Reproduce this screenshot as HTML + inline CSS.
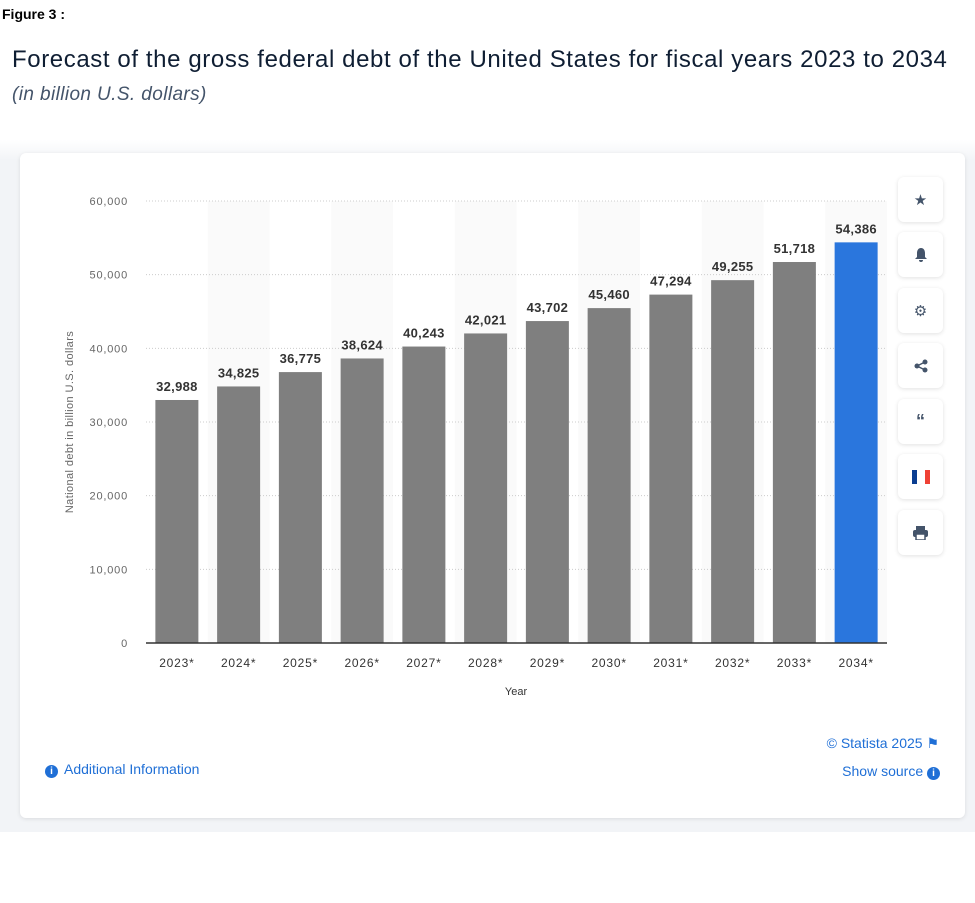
<!DOCTYPE html>
<html><head><meta charset="utf-8"><style>
body{margin:0;width:975px;height:903px;background:#fff;font-family:"Liberation Sans",sans-serif;position:relative;overflow:hidden}
.abs{position:absolute}
.icon{position:absolute;left:898px;width:45px;height:45px;background:#fff;border-radius:6px;box-shadow:0 1px 4px rgba(0,0,0,0.12);display:flex;align-items:center;justify-content:center;color:#44546a;font-size:15px}
</style></head><body>
<div class="abs" style="left:2px;top:6px;font-weight:bold;font-size:14px;color:#000">Figure 3 :</div>
<div class="abs" style="left:12px;top:46px;font-size:24px;color:#0f1e33;letter-spacing:0.6px;white-space:nowrap">Forecast of the gross federal debt of the United States for fiscal years 2023 to 2034</div>
<div class="abs" style="left:12px;top:84px;font-size:19px;font-style:italic;color:#44546a;letter-spacing:0.4px">(in billion U.S. dollars)</div>
<div class="abs" style="left:0;top:140px;width:975px;height:692px;background:linear-gradient(#fff,#f2f4f7 20px)"></div>
<div class="abs" style="left:20px;top:153px;width:945px;height:665px;background:#fff;border-radius:6px;box-shadow:0 1px 4px rgba(0,0,0,0.1)"></div>
<svg class="abs" style="left:0;top:0" width="975" height="903" id="chart"></svg>
<div class="icon" style="top:177px">★</div>
<div class="icon" style="top:232px"><svg width="14" height="15"><path d="M7 1C4 1 3 4 3 6v4l-2 2h12l-2-2V6c0-2-1-5-4-5zM5 13h4a2 2 0 0 1-4 0z" fill="#44546a"/></svg></div>
<div class="icon" style="top:288px">⚙</div>
<div class="icon" style="top:343px"><svg width="14" height="14"><circle cx="11" cy="3" r="2.5" fill="#44546a"/><circle cx="3" cy="7" r="2.5" fill="#44546a"/><circle cx="11" cy="11" r="2.5" fill="#44546a"/><path d="M3 7L11 3M3 7l8 4" stroke="#44546a" stroke-width="1.5"/></svg></div>
<div class="icon" style="top:399px;font-weight:bold;font-size:18px">“</div>
<div class="icon" style="top:454px"><svg width="20" height="14"><rect x="1" width="5" height="14" fill="#0a3d91"/><rect x="14" width="5" height="14" fill="#ef4135"/></svg></div>
<div class="icon" style="top:510px"><svg width="15" height="14"><rect x="3" y="0" width="9" height="4" fill="#44546a"/><rect x="0" y="4" width="15" height="7" rx="2" fill="#44546a"/><rect x="3" y="8" width="9" height="6" fill="#fff" stroke="#44546a" stroke-width="1.5"/></svg></div>
<div class="abs" style="left:45px;top:761px;font-size:14px;color:#1f6fd6"><span style="display:inline-block;width:13px;height:13px;border-radius:50%;background:#1f6fd6;color:#fff;font-size:10px;text-align:center;line-height:13px;font-weight:bold;margin-right:6px">i</span>Additional Information</div>
<div class="abs" style="right:36px;top:735px;font-size:14px;color:#1f6fd6">© Statista 2025 ⚑</div>
<div class="abs" style="right:35px;top:763px;font-size:14px;color:#1f6fd6">Show source <span style="display:inline-block;width:13px;height:13px;border-radius:50%;background:#1f6fd6;color:#fff;font-size:10px;text-align:center;line-height:13px;font-weight:bold">i</span></div>
<script>
const categories=["2023*","2024*","2025*","2026*","2027*","2028*","2029*","2030*","2031*","2032*","2033*","2034*"];
const values=[32988,34825,36775,38624,40243,42021,43702,45460,47294,49255,51718,54386];
const yTicks=[0,10000,20000,30000,40000,50000,60000];
const NS="http://www.w3.org/2000/svg";
const svg=document.getElementById('chart');
const x0=146,x1=887,y0=643,y1=201,yMax=60000;
const step=(x1-x0)/categories.length,bw=43;
const yS=v=>y0-(v/yMax)*(y0-y1);
const xS=i=>x0+i*step;
function mk(t,a){const e=document.createElementNS(NS,t);for(const k in a)e.setAttribute(k,a[k]);svg.appendChild(e);return e;}
categories.forEach((c,i)=>{if(i%2===1){const b=mk('rect',{x:xS(i),y:y1,width:step,height:y0-y1,fill:'#fafafa'});

}});
yTicks.forEach(v=>{
 if(v>0){const l=mk('line',{x1:x0,x2:x1,y1:yS(v),y2:yS(v),stroke:'#ccc','stroke-dasharray':'1 2'});
 
 }
 const t=mk('text',{x:128,y:yS(v)+4,'text-anchor':'end','font-size':'11',fill:'#666','letter-spacing':'0.8'});
 
 
 t.textContent=v.toLocaleString('en-US');
});
values.forEach((v,i)=>{
 const cx=xS(i)+step/2;
 const r=mk('rect',{x:cx-bw/2,y:yS(v),width:bw,height:y0-yS(v),fill:i===values.length-1?'#2a76dd':'#7f7f7f'});
 
 
 const t=mk('text',{x:cx,y:yS(v)-9,'text-anchor':'middle','font-size':'13','font-weight':'bold',fill:'#333','letter-spacing':'0.3'});
 
 
 t.textContent=v.toLocaleString('en-US');
 const c=mk('text',{x:cx,y:667,'text-anchor':'middle','font-size':'12',fill:'#333','letter-spacing':'0.8'});
 
 
 c.textContent=categories[i];
});
const ax=mk('line',{x1:x0,x2:x1,y1:y0,y2:y0,stroke:'#333','stroke-width':'1.5'});


const xt=mk('text',{x:516,y:695,'text-anchor':'middle','font-size':'11',fill:'#333'});


xt.textContent='Year';
const yt=mk('text',{x:0,y:0,'text-anchor':'middle','font-size':'11',fill:'#666','letter-spacing':'0.4',transform:'translate(73,422) rotate(-90)'});


yt.textContent='National debt in billion U.S. dollars';
</script>
</body></html>
